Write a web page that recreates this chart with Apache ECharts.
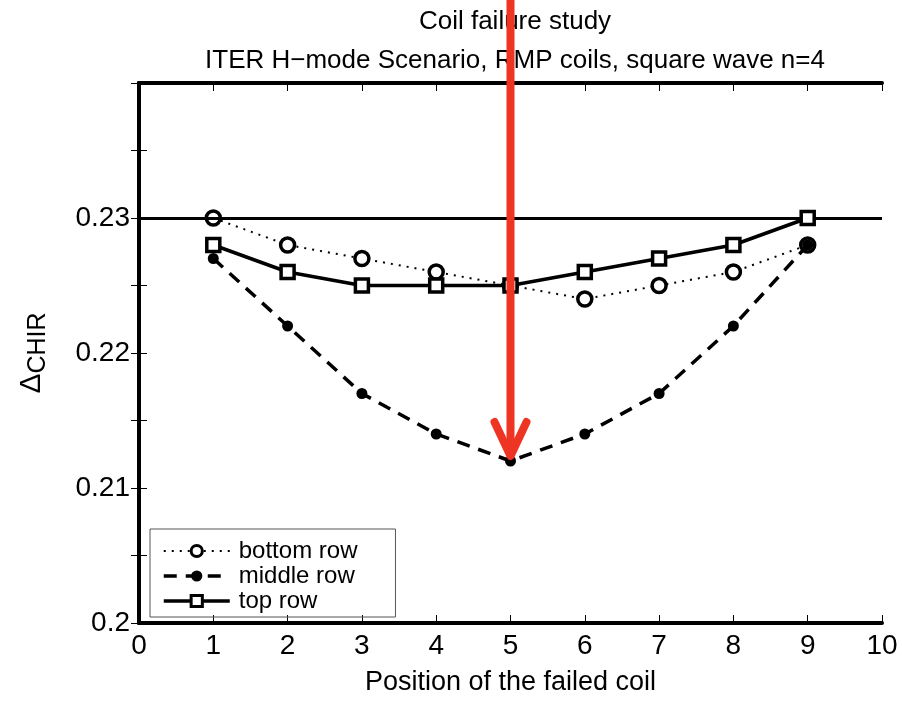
<!DOCTYPE html>
<html><head><meta charset="utf-8">
<script src="https://cdn.jsdelivr.net/npm/echarts@6/dist/echarts.min.js"></script>
<style>html,body{margin:0;padding:0;background:#fff}#c{width:902px;height:701px}</style>
</head><body><div id="c"></div>
<script>
const positions = [1, 2, 3, 4, 5, 6, 7, 8, 9];
const bottomRow = [0.230, 0.228, 0.227, 0.226, 0.225, 0.224, 0.225, 0.226, 0.228];
const middleRow = [0.227, 0.222, 0.217, 0.214, 0.212, 0.214, 0.217, 0.222, 0.228];
const topRow    = [0.228, 0.226, 0.225, 0.225, 0.225, 0.226, 0.227, 0.228, 0.230];
const referenceLevel = 0.23;
const failedCoil = 5;
const failedValue = 0.212;
const titleText = 'Coil failure study';
const subtitleText = 'ITER H\u2212mode Scenario, RMP coils, square wave n=4';

const FONT = 'Liberation Sans, Arial, Helvetica, sans-serif';
const pair = (ys) => positions.map((x, i) => [x, ys[i]]);

const chart = echarts.init(document.getElementById('c'));
const axisCommon = {
  axisLine: {show: true, lineStyle: {color: '#000', width: 4}},
  axisTick: {show: true, inside: true, length: 8, lineStyle: {color: '#000', width: 1}},
  splitLine: {show: false}
};
const dotted = [2, 6];
const dashed = [13, 9];
chart.setOption({
  animation: false,
  backgroundColor: '#fff',
  title: {
    text: titleText + '\n' + subtitleText,
    left: 510, top: -3, textAlign: 'center',
    textStyle: {fontFamily: FONT, fontSize: 26, fontWeight: 'normal', color: '#000', lineHeight: 39}
  },
  grid: {left: 139, right: 20, top: 83, bottom: 74},
  legend: {
    orient: 'vertical', left: 150, top: 529,
    itemWidth: 66, itemHeight: 14, itemGap: 1,
    borderColor: '#555', borderWidth: 1, padding: [10, 38, 4, 12],
    textStyle: {fontFamily: FONT, fontSize: 24, color: '#000', padding: [0, 0, 0, 4]},
    data: [
      {name: 'bottom row', lineStyle: {width: 2, type: dotted}, itemStyle: {borderWidth: 3}},
      {name: 'middle row', lineStyle: {width: 3.5, type: dashed}},
      {name: 'top row', lineStyle: {width: 3.5, type: 'solid'}, itemStyle: {borderWidth: 3}}
    ]
  },
  xAxis: [
    Object.assign({}, axisCommon, {
      type: 'value', min: 0, max: 10, interval: 1, position: 'bottom',
      name: 'Position of the failed coil', nameLocation: 'middle', nameGap: 46,
      nameTextStyle: {fontFamily: FONT, fontSize: 27, color: '#000'},
      axisLabel: {fontFamily: FONT, fontSize: 28, color: '#000', margin: 9}
    }),
    Object.assign({}, axisCommon, {
      type: 'value', min: 0, max: 10, interval: 1, position: 'top',
      axisLabel: {show: false}
    })
  ],
  yAxis: [
    Object.assign({}, axisCommon, {
      type: 'value', min: 0.2, max: 0.24, interval: 0.005, position: 'left',
      name: '{d|\u0394}{s|CHIR}', nameLocation: 'middle', nameGap: 88, nameRotate: 90,
      nameTextStyle: {
        color: '#000',
        rich: {
          d: {fontFamily: FONT, fontSize: 30, color: '#000'},
          s: {fontFamily: FONT, fontSize: 25, color: '#000', verticalAlign: 'bottom', padding: [14, 0, 0, 0]}
        }
      },
      axisLabel: {
        fontFamily: FONT, fontSize: 28, color: '#000', margin: 9,
        formatter: function (v) {
          const k = Math.round(v * 1000);
          if (k % 10 !== 0 || k >= 240) return '';
          return String(+v.toFixed(2));
        }
      }
    }),
    Object.assign({}, axisCommon, {
      type: 'value', min: 0.2, max: 0.24, interval: 0.005, position: 'right',
      axisLabel: {show: false}
    })
  ],
  series: [
    {
      name: 'bottom row', type: 'line', data: pair(bottomRow),
      symbol: 'circle', symbolSize: 14,
      itemStyle: {color: '#fff', borderColor: '#000', borderWidth: 3.5},
      lineStyle: {color: '#000', width: 2, type: dotted},
      z: 3,
      markLine: {
        silent: true, symbol: 'none', label: {show: false},
        lineStyle: {color: '#000', width: 3, type: 'solid'},
        data: [{yAxis: referenceLevel}]
      }
    },
    {
      name: 'middle row', type: 'line', data: pair(middleRow),
      symbol: 'circle', symbolSize: 11,
      itemStyle: {color: '#000', borderColor: '#000', borderWidth: 0},
      lineStyle: {color: '#000', width: 3.5, type: dashed},
      z: 4
    },
    {
      name: 'top row', type: 'line', data: pair(topRow),
      symbol: 'rect', symbolSize: 13,
      itemStyle: {color: '#fff', borderColor: '#000', borderWidth: 3.5},
      lineStyle: {color: '#000', width: 3.5, type: 'solid'},
      z: 5
    }
  ]
});

// red arrow pointing at the failed coil with the deepest drop
const tip = chart.convertToPixel({xAxisIndex: 0, yAxisIndex: 0}, [failedCoil, failedValue]);
const tx = tip[0], ty = tip[1] - 5;
chart.setOption({
  graphic: [
    {type: 'line', z: 100, shape: {x1: tx, y1: 0, x2: tx, y2: ty - 4},
     style: {stroke: '#ee3524', lineWidth: 8}},
    {type: 'polyline', z: 100, shape: {points: [[tx - 16, ty - 34], [tx, ty], [tx + 16, ty - 34]]},
     style: {stroke: '#ee3524', lineWidth: 8, lineCap: 'round', lineJoin: 'round', fill: null}}
  ]
});
</script></body></html>
